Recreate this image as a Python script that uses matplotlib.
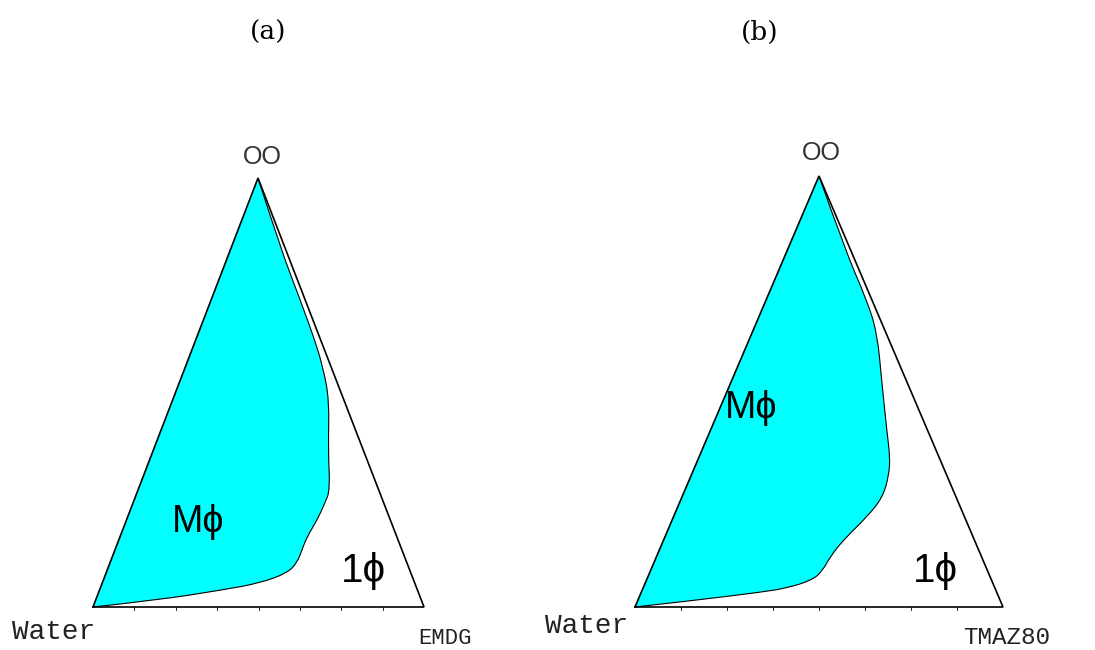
"""
Pseudo-ternary phase diagrams: water / OO / surfactant (EMDG, TMAZ80).
Cyan area is the multiphase (M phi) region, the rest is single phase (1 phi).
"""

import numpy as np
import matplotlib
matplotlib.use("Agg")
import matplotlib.pyplot as plt
from matplotlib.path import Path
from matplotlib.patches import PathPatch

# phase boundary, going from the OO corner down to water
# oo = OO fraction, surf = surfactant fraction (water = 1 - oo - surf)
oo_a = [1.0, 0.839, 0.716, 0.622, 0.559, 0.483, 0.366, 0.273, 0.242, 0.203,
        0.163, 0.133, 0.103, 0.079, 0.056, 0.040, 0.016, 0.0]
surf_a = [0.0, 0.147, 0.269, 0.360, 0.416, 0.473, 0.528, 0.580, 0.580, 0.576,
          0.565, 0.565, 0.565, 0.547, 0.477, 0.373, 0.185, 0.0]

oo_b = [1.0, 0.828, 0.712, 0.636, 0.520, 0.404, 0.348, 0.306, 0.255, 0.209,
        0.155, 0.116, 0.086, 0.063, 0.044, 0.035, 0.016, 0.0]
surf_b = [0.0, 0.157, 0.274, 0.340, 0.411, 0.483, 0.519, 0.537, 0.546, 0.526,
          0.488, 0.472, 0.468, 0.452, 0.391, 0.330, 0.160, 0.0]

panel_titles = ["(a)", "(b)"]
surfactants = ["EMDG", "TMAZ80"]
n_div = 8

# layout: corner positions in pixels (water, surfactant, OO)
corners = [
    dict(water=(93, 607), surf=(424, 607), oo=(258, 178)),
    dict(water=(635, 607), surf=(1003, 607), oo=(819, 176)),
]

narrow = ["Liberation Sans", "DejaVu Sans"]
mono = ["Liberation Mono", "DejaVu Sans Mono"]


def to_xy(c, oo, surf):
    oo = np.asarray(oo)
    surf = np.asarray(surf)
    w = 1 - oo - surf
    x = w * c["water"][0] + surf * c["surf"][0] + oo * c["oo"][0]
    y = w * c["water"][1] + surf * c["surf"][1] + oo * c["oo"][1]
    return np.column_stack([x, y])


def region_path(c, oo, surf):
    pts = to_xy(c, oo, surf)
    verts = [tuple(pts[-1]), tuple(pts[0])]
    codes = [Path.MOVETO, Path.LINETO]
    # smooth through the boundary points with quadratic pieces
    for i in range(1, len(pts) - 2):
        mid = (pts[i] + pts[i + 1]) / 2
        verts += [tuple(pts[i]), tuple(mid)]
        codes += [Path.CURVE3, Path.CURVE3]
    verts += [tuple(pts[-2]), tuple(pts[-1])]
    codes += [Path.CURVE3, Path.CURVE3]
    return Path(verts, codes)


fig = plt.figure(figsize=(10.95, 6.5), dpi=100)
ax = fig.add_axes([0, 0, 1, 1])
ax.set_xlim(0, 1095)
ax.set_ylim(650, 0)
ax.axis("off")

data = [(oo_a, surf_a), (oo_b, surf_b)]
for c, (oo, surf) in zip(corners, data):
    path = region_path(c, oo, surf)
    ax.add_patch(PathPatch(path, facecolor="#00FFFF", edgecolor="none"))
    # boundary outline only (skip the water-OO edge)
    bpath = Path(path.vertices[1:], [Path.MOVETO] + list(path.codes[2:]))
    ax.add_patch(PathPatch(bpath, facecolor="none", edgecolor="black", lw=0.8))

    tri = np.array([c["water"], c["surf"], c["oo"], c["water"]])
    ax.plot(tri[:, 0], tri[:, 1], color="black", lw=1.2, solid_joinstyle="miter")
    for k in range(1, n_div):
        tx = c["water"][0] + (c["surf"][0] - c["water"][0]) * k / n_div
        ax.plot([tx, tx], [c["water"][1], c["water"][1] + 2.5], color="black", lw=0.6)

# panel titles
ax.text(268, 32, panel_titles[0], ha="center", va="center", fontsize=19, family="DejaVu Serif")
ax.text(760, 32, panel_titles[1], ha="center", va="center", fontsize=19, family="DejaVu Serif")

# corner labels
ax.text(262, 157, "OO", ha="center", va="center", fontsize=18, family=narrow, color="#333333")
ax.text(821, 153, "OO", ha="center", va="center", fontsize=18, family=narrow, color="#333333")
ax.text(12, 632, "Water", ha="left", va="center", fontsize=20, family=mono, color="#222222")
ax.text(545, 626, "Water", ha="left", va="center", fontsize=20, family=mono, color="#222222")
ax.text(445, 638, surfactants[0], ha="center", va="center", fontsize=16, family=mono, color="#222222")
ax.text(1007, 637, surfactants[1], ha="center", va="center", fontsize=17.5, family=mono, color="#222222")

# phase labels
ax.text(198, 532, "M\u03d5", ha="center", va="baseline", fontsize=27, family=narrow)
ax.text(363, 582, "1\u03d5", ha="center", va="baseline", fontsize=29, family=narrow)
ax.text(751, 418, "M\u03d5", ha="center", va="baseline", fontsize=27, family=narrow)
ax.text(935, 582, "1\u03d5", ha="center", va="baseline", fontsize=29, family=narrow)

plt.savefig("out.png", dpi=100)
